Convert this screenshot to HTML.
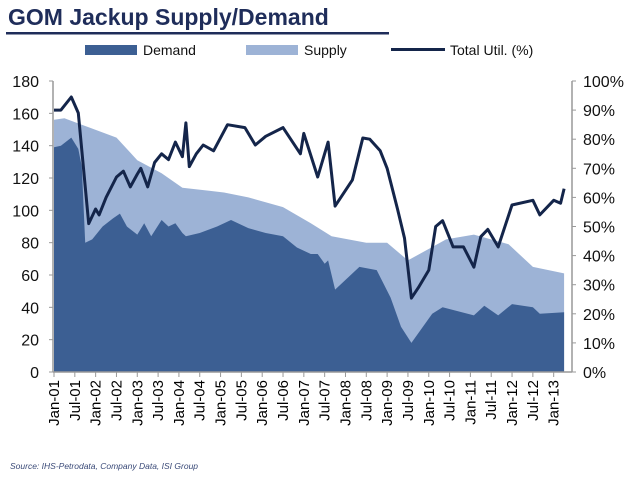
<!DOCTYPE html>
<html><head><meta charset="utf-8"><style>
body{margin:0;background:#fff;width:640px;height:488px;overflow:hidden;font-family:"Liberation Sans",Arial,sans-serif}
</style></head><body>
<svg width="640" height="488" id="svg" font-family="Liberation Sans, Arial, sans-serif">
<text x="8" y="25" font-size="23" font-weight="bold" fill="#1f2d5a">GOM Jackup Supply/Demand</text>
<rect x="6" y="32" width="383" height="2.5" fill="#1f2d5a"/>
<g>
<rect x="85" y="45" width="52" height="10" fill="#3c5f93"/>
<text x="143" y="55" font-size="14" fill="#111">Demand</text>
<rect x="246" y="45" width="52" height="10" fill="#9db3d6"/>
<text x="304" y="55" font-size="14" fill="#111">Supply</text>
<rect x="391" y="48" width="54" height="3" fill="#14254a"/>
<text x="450" y="55" font-size="14" fill="#111">Total Util. (%)</text>
</g>
<g id="plot"></g>
<text x="10" y="469" font-size="8.5" font-style="italic" fill="#3a4a78">Source: IHS-Petrodata, Company Data, ISI Group</text>
</svg>
<script>
const supplyMonths=[0,3,8,18,24,31,37,45,49,56,66,74,80,90,96,102,113,121,131,138,147];
const supplyVals=[156,157,153,145,131,123,114,112,111,108,102,92,84,80,80,69,82,85,79,65,61];
const demandMonths=[0,2,5,7,8,9,11,14,17,19,21,24,26,28,31,33,35,37,38,40,42,47,51,56,61,66,70,74,76,78,79,81,88,93,97,100,103,109,112,121,124,128,132,138,140,147];
const demandVals=[139,140,145,138,127,80,82,90,95,98,90,85,92,84,94,90,92,86,84,85,86,90,94,89,86,84,77,73,73,67,69,51,65,63,46,28,18,36,40,35,41,35,42,40,36,37];
const utilMonths=[0,2,5,7,10,12,13,15,18,20,22,24,25,27,29,31,33,35,37,38,39,41,43,46,50,55,58,61,66,71,72,76,79,81,86,89,91,94,96,99,101,103,105,108,110,112,114,115,118,121,123,125,128,132,138,140,144,146,147];
const utilVals=[90,90,94.5,89,51,56,54,60,67,69,63.6,68,70,63.6,72,75,73,79,74,85.6,70.6,75,78,76,85,84,78,81,84,75,82,67,79,57,66,80.4,80,76,70,56,46,25.4,29,35,50,52,46,43,43,36,46.5,49,43,57.4,59,54,59,58,63];
const leftTicks=[0,20,40,60,80,100,120,140,160,180];
const rightTicks=[0,10,20,30,40,50,60,70,80,90,100];
const xTickLabels=["Jan-01","Jul-01","Jan-02","Jul-02","Jan-03","Jul-03","Jan-04","Jul-04","Jan-05","Jul-05","Jan-06","Jul-06","Jan-07","Jul-07","Jan-08","Jul-08","Jan-09","Jul-09","Jan-10","Jul-10","Jan-11","Jul-11","Jan-12","Jul-12","Jan-13"];

const NS="http://www.w3.org/2000/svg";
const plot=document.getElementById('plot');
const X0=54,PX=3.47,YB=372,YT=81,XL=53,XR=567,RA=572;
const xs=m=>X0+m*PX;
const yl=v=>YB-(v/180)*(YB-YT);
const yr=v=>YB-(v/100)*(YB-YT);
function mk(t,a){const e=document.createElementNS(NS,t);for(const k in a)e.setAttribute(k,a[k]);plot.appendChild(e);return e;}
function area(ms,vs){let d='M'+xs(ms[0])+','+YB;ms.forEach((m,i)=>d+='L'+xs(m).toFixed(1)+','+yl(vs[i]).toFixed(1));d+='L'+xs(ms[ms.length-1])+','+YB+'Z';return d;}
const sa=mk('path',{d:area(supplyMonths,supplyVals),fill:'#9db3d6'});


const da=mk('path',{d:area(demandMonths,demandVals),fill:'#3c5f93'});


let ld='';utilMonths.forEach((m,i)=>ld+=(i?'L':'M')+xs(m).toFixed(1)+','+yr(utilVals[i]).toFixed(1));
const ul=mk('path',{d:ld,fill:'none',stroke:'#14254a','stroke-width':3,'stroke-linejoin':'round'});


const la=mk('line',{x1:XL,y1:YT,x2:XL,y2:YB,stroke:'#999','stroke-width':1.5});


const ra=mk('line',{x1:RA,y1:YT,x2:RA,y2:YB,stroke:'#999','stroke-width':1.5});


const ba=mk('line',{x1:XL,y1:YB,x2:RA,y2:YB,stroke:'#999','stroke-width':1.5});


leftTicks.forEach(v=>{
  mk('line',{x1:XL-4,y1:yl(v),x2:XL,y2:yl(v),stroke:'#999'});
  const t=mk('text',{x:39,y:yl(v)+6,'font-size':16,'text-anchor':'end',fill:'#111'});
  t.textContent=v;
  
  
});
rightTicks.forEach(v=>{
  mk('line',{x1:RA,y1:yr(v),x2:RA+4,y2:yr(v),stroke:'#999'});
  const t=mk('text',{x:583,y:yr(v)+6,'font-size':16,fill:'#111'});
  t.textContent=v+'%';
  
  
});
xTickLabels.forEach((s,i)=>{
  const x=xs(i*6);
  mk('line',{x1:x,y1:YB,x2:x,y2:YB+5,stroke:'#999'});
  const t=mk('text',{x:0,y:0,'font-size':15,'text-anchor':'end',fill:'#000',transform:`translate(${x+5},380) rotate(-90)`});
  t.textContent=s;
  
  
});
</script>
</body></html>
